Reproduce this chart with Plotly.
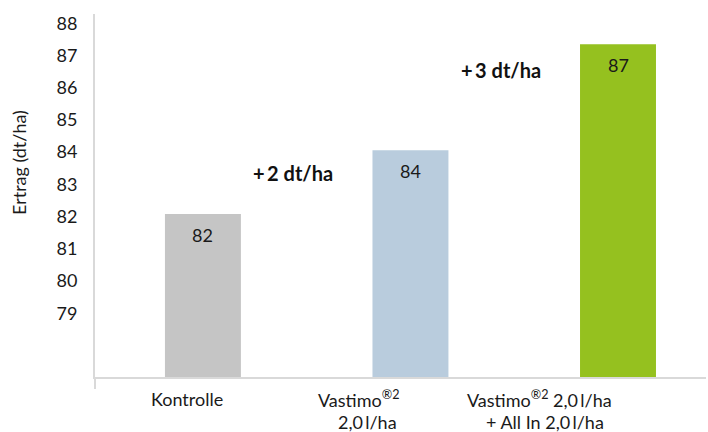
import plotly.graph_objects as go

categories = ["Kontrolle", "Vastimo 2,0", "Vastimo + All In"]
values = [82.08, 84.06, 87.35]
bar_labels = ["82", "84", "87"]
colors = ["#C5C5C5", "#B9CCDD", "#95C11F"]
y_ticks = [79, 80, 81, 82, 83, 84, 85, 86, 87, 88]
y_range = [77.02, 88.29]
x_label_lines = [
    ("Kontrolle", 0, -15.5, 399),
    ("Vastimo<sup>®2</sup>", 1, -51.5, 399),
    ("2,0\u2009l/ha", 1, -43, 422),
    ("Vastimo<sup>®2</sup> 2,0\u2009l/ha", 2, -78.8, 399),
    ("+ All In 2,0\u2009l/ha", 2, -73.3, 422),
]
diff_labels = [("+\u20092 dt/ha", 292.5, 172.5), ("+\u20093 dt/ha", 500.5, 70)]

FONT = "Lato"
W, H = 708, 432
ML, MR, MT, MB = 95, 2, 14, 55
PW, PH = W - ML - MR, H - MT - MB

fig = go.Figure()
fig.add_trace(go.Bar(
    x=categories, y=values, marker=dict(color=colors, line=dict(width=0)),
    width=0.366, hoverinfo="skip",
))

ann = []
for c, v, t in zip(categories, values, bar_labels):
    ann.append(dict(x=c, y=v, xref="x", yref="y", text=t, showarrow=False,
                    yanchor="middle", yshift=-21,
                    font=dict(family=FONT, size=18, color="#1A1A1A")))
for text, idx, shift, py in x_label_lines:
    ann.append(dict(x=categories[idx], y=(H - MB - py) / PH, xref="x", yref="paper",
                    text=text, showarrow=False, xshift=shift, yanchor="middle",
                    font=dict(family=FONT, size=18, color="#1A1A1A")))
for text, px, py in diff_labels:
    ann.append(dict(x=(px - ML) / PW, y=(H - MB - py) / PH, xref="paper", yref="paper",
                    text="<b>" + text + "</b>", showarrow=False,
                    xanchor="center", yanchor="middle",
                    font=dict(family=FONT, size=20, color="#111111")))
ann.append(dict(x=(19 - ML) / PW, y=(H - MB - 163) / PH, xref="paper", yref="paper",
                text="Ertrag (dt/ha)", textangle=-90, showarrow=False,
                xanchor="center", yanchor="middle",
                font=dict(family=FONT, size=18, color="#1A1A1A")))

fig.update_layout(
    width=W, height=H,
    margin=dict(l=ML, r=MR, t=MT, b=MB, pad=0, autoexpand=False),
    paper_bgcolor="white", plot_bgcolor="white",
    showlegend=False,
    annotations=ann,
    xaxis=dict(range=[-0.52, 2.424], showticklabels=False, showgrid=False,
               showline=True, linecolor="#D9D9D9", linewidth=2, zeroline=False,
               ticks="", automargin=False),
    yaxis=dict(range=y_range, tickvals=y_ticks, showgrid=False,
               showline=True, linecolor="#D9D9D9", linewidth=2, zeroline=False,
               ticks="", ticklabelstandoff=12, automargin=False,
               tickfont=dict(family=FONT, size=18, color="#1A1A1A")),
    shapes=[dict(type="line", xref="paper", yref="paper", x0=0, x1=0,
                 y0=0, y1=-12 / PH, line=dict(color="#D9D9D9", width=2))],
)

fig.write_html("out.html", config={"displayModeBar": False},
               post_script="document.body.style.margin='0px';")
